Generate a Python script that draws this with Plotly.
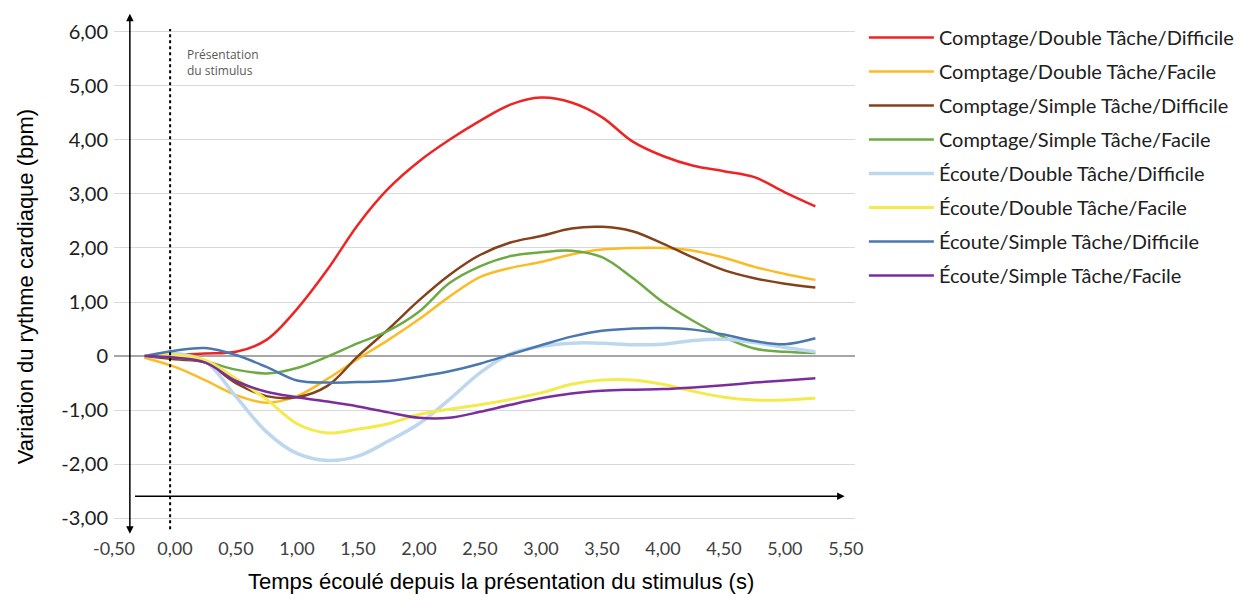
import plotly.graph_objects as go

# temps (s) depuis la présentation du stimulus
temps = [-0.25, 0, 0.25, 0.5, 0.75, 1.0, 1.25, 1.5, 1.75, 2.0, 2.25, 2.5,
         2.75, 3.0, 3.25, 3.5, 3.75, 4.0, 4.25, 4.5, 4.75, 5.0, 5.25]

# variation du rythme cardiaque (bpm)
comptage_double_difficile = [0, 0.02, 0.05, 0.08, 0.3, 0.87, 1.6, 2.43, 3.1, 3.6, 4.0, 4.35,
                             4.65, 4.78, 4.69, 4.42, 3.97, 3.7, 3.52, 3.42, 3.31, 3.03, 2.77]
comptage_double_facile = [-0.03, -0.2, -0.45, -0.72, -0.86, -0.74, -0.42, -0.05, 0.3, 0.68, 1.1, 1.46,
                          1.63, 1.74, 1.88, 1.97, 2.0, 2.0, 1.95, 1.82, 1.65, 1.52, 1.41]
comptage_simple_difficile = [0, -0.06, -0.12, -0.5, -0.74, -0.76, -0.55, 0.0, 0.5, 1.03, 1.5, 1.87,
                             2.1, 2.22, 2.36, 2.39, 2.31, 2.08, 1.82, 1.59, 1.44, 1.34, 1.27]
comptage_simple_facile = [0, -0.03, -0.1, -0.25, -0.32, -0.22, -0.01, 0.24, 0.47, 0.82, 1.35, 1.66,
                          1.85, 1.92, 1.95, 1.83, 1.45, 1.0, 0.65, 0.35, 0.14, 0.08, 0.06]
ecoute_double_difficile = [0, 0.05, -0.1, -0.75, -1.4, -1.8, -1.93, -1.85, -1.57, -1.25, -0.8, -0.31,
                           0.04, 0.18, 0.24, 0.24, 0.21, 0.22, 0.29, 0.31, 0.25, 0.16, 0.08]
ecoute_double_facile = [0, 0.02, -0.08, -0.42, -0.8, -1.25, -1.42, -1.35, -1.25, -1.08, -0.98, -0.9,
                        -0.8, -0.68, -0.52, -0.44, -0.44, -0.52, -0.65, -0.76, -0.81, -0.81, -0.78]
ecoute_simple_difficile = [0, 0.1, 0.15, 0.02, -0.2, -0.45, -0.49, -0.48, -0.46, -0.38, -0.28, -0.14,
                           0.03, 0.2, 0.36, 0.47, 0.51, 0.52, 0.49, 0.4, 0.28, 0.22, 0.33]
ecoute_simple_facile = [0, -0.03, -0.12, -0.46, -0.66, -0.76, -0.84, -0.93, -1.04, -1.14, -1.14, -1.03,
                        -0.9, -0.78, -0.69, -0.64, -0.62, -0.61, -0.58, -0.54, -0.49, -0.45, -0.41]

noms = ['Comptage/Double Tâche/Difficile', 'Comptage/Double Tâche/Facile',
        'Comptage/Simple Tâche/Difficile', 'Comptage/Simple Tâche/Facile',
        'Écoute/Double Tâche/Difficile', 'Écoute/Double Tâche/Facile',
        'Écoute/Simple Tâche/Difficile', 'Écoute/Simple Tâche/Facile']
series = [comptage_double_difficile, comptage_double_facile, comptage_simple_difficile,
          comptage_simple_facile, ecoute_double_difficile, ecoute_double_facile,
          ecoute_simple_difficile, ecoute_simple_facile]
couleurs = ['#EE2424', '#FBBB25', '#84421C', '#6DAA45', '#BDD7EE', '#F4EA4C', '#4A78AE', '#7A2E9E']
epaisseurs = [2.5, 2.5, 2.5, 2.5, 3.5, 3, 2.5, 2.5]

x_ticks = [-0.5, 0, 0.5, 1.0, 1.5, 2.0, 2.5, 3.0, 3.5, 4.0, 4.5, 5.0, 5.5]
x_labels = ['-0,50', '0,00', '0,50', '1,00', '1,50', '2,00', '2,50', '3,00', '3,50',
            '4,00', '4,50', '5,00', '5,50']
y_ticks = [-3, -2, -1, 0, 1, 2, 3, 4, 5, 6]
y_labels = ['-3,00', '-2,00', '-1,00', '0', '1,00', '2,00', '3,00', '4,00', '5,00', '6,00']

stimulus_x = -0.04

fig = go.Figure()
for i, (nom, ys) in enumerate(zip(noms, series)):
    fig.add_trace(go.Scatter(x=temps, y=ys, name=nom, mode='lines', legendgroup=str(i),
                             line=dict(color=couleurs[i], width=epaisseurs[i], shape='spline', smoothing=1)))

# ligne pointillée : présentation du stimulus
fig.add_shape(type='line', x0=stimulus_x, x1=stimulus_x, y0=-3.2, y1=6.05,
              line=dict(color='black', width=2, dash='dot'))
fig.add_annotation(x=0.08, y=5.78, text='Présentation<br>du stimulus', showarrow=False,
                   xanchor='left', yanchor='top', align='left',
                   font=dict(family='Open Sans', size=12, color='#595959'))

# flèches des axes
fig.add_annotation(x=-0.37, y=6.33, ax=-0.37, ay=-3.31, xref='x', yref='y', axref='x', ayref='y',
                   text='', showarrow=True, arrowhead=2, arrowside='end+start',
                   arrowsize=1, arrowwidth=1.5, arrowcolor='black')
fig.add_annotation(x=5.49, y=-2.59, ax=-0.34, ay=-2.59, xref='x', yref='y', axref='x', ayref='y',
                   text='', showarrow=True, arrowhead=2, arrowsize=1, arrowwidth=1.5, arrowcolor='black')

# titres des axes
fig.add_annotation(x=0.522, y=-0.079, xref='paper', yref='paper', showarrow=False,
                   xanchor='center', yanchor='middle',
                   text='Temps écoulé depuis la présentation du stimulus (s)',
                   font=dict(family='Liberation Sans', size=22, color='black'))
fig.add_annotation(x=-0.12, y=0.477, xref='paper', yref='paper', showarrow=False, textangle=-90,
                   xanchor='center', yanchor='middle',
                   text='Variation du rythme cardiaque (bpm)',
                   font=dict(family='Liberation Sans', size=22, color='black'))

# la page ajoute une marge de 8 px autour de la figure
fig.update_layout(
    width=1237, height=592,
    margin=dict(l=106, r=390, t=2, b=60),
    plot_bgcolor='white', paper_bgcolor='white',
    xaxis=dict(range=[-0.5, 5.575], tickvals=x_ticks, ticktext=x_labels, showgrid=False,
               zeroline=False, showline=False, ticks='', ticklabelstandoff=-4,
               tickfont=dict(family='Lato', size=18, color='#404040')),
    yaxis=dict(range=[-3.4, 6.4], tickvals=y_ticks, ticktext=y_labels, showgrid=True,
               gridcolor='#d9d9d9', gridwidth=1.2, zeroline=True, zerolinecolor='#a6a6a6',
               zerolinewidth=1.5, showline=False, ticks='', ticklabelstandoff=5,
               tickfont=dict(family='Lato', size=20, color='#202020')),
    legend=dict(x=1.012, y=0.985, xanchor='left', yanchor='top', tracegroupgap=5,
                itemwidth=65, font=dict(family='Lato', size=20, color='#202020')),
    showlegend=True,
)

fig.write_html("out.html")
